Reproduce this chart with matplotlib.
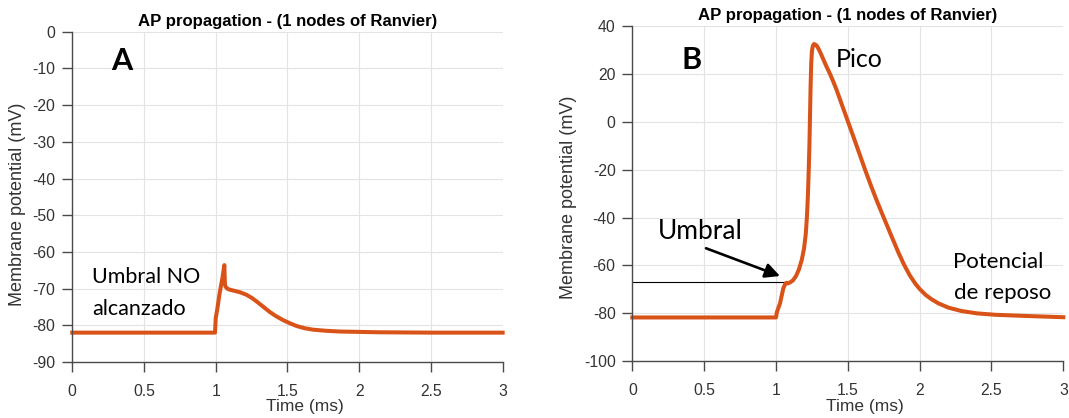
import matplotlib
matplotlib.use("Agg")
import matplotlib.pyplot as plt

# Membrane potential traces (time in ms, potential in mV)
t_sub = [0.0, 0.995, 1.0, 1.01, 1.027, 1.048, 1.06, 1.064, 1.069, 1.08, 1.099, 1.13,
         1.17, 1.215, 1.25, 1.285, 1.33, 1.378, 1.42, 1.47, 1.52, 1.564, 1.62, 1.68,
         1.77, 1.865, 2.0, 2.14, 2.5, 3.0]
v_sub = [-82.0, -82.0, -78.0, -75.8, -71.3, -66.8, -63.6, -68.8, -69.5, -70.0, -70.3,
         -70.6, -71.0, -71.7, -72.5, -73.5, -74.9, -76.4, -77.5, -78.6, -79.5, -80.2,
         -80.8, -81.2, -81.5, -81.7, -81.8, -81.9, -82.0, -82.0]

t_ap = [0.0, 1.0, 1.006, 1.015, 1.028, 1.04, 1.051, 1.065, 1.074, 1.082, 1.1, 1.12,
        1.14, 1.16, 1.18, 1.195, 1.207, 1.215, 1.222, 1.228, 1.233, 1.237, 1.241,
        1.245, 1.25, 1.257, 1.265, 1.28, 1.29, 1.31, 1.33, 1.35, 1.376, 1.40, 1.422,
        1.45, 1.48, 1.51, 1.54, 1.58, 1.62, 1.66, 1.70, 1.75, 1.80, 1.85, 1.89, 1.93,
        1.97, 2.0, 2.04, 2.08, 2.13, 2.2, 2.29, 2.4, 2.53, 2.75, 3.0]
v_ap = [-81.7, -81.7, -79.5, -78.0, -75.8, -72.5, -69.5, -67.6, -67.2, -67.5, -67.0,
        -66.1, -64.3, -61.6, -57.5, -53.0, -47.0, -40.0, -31.0, -20.0, -9.0, 3.0,
        15.0, 24.0, 29.5, 31.8, 32.5, 32.0, 31.2, 28.8, 26.0, 23.3, 20.0, 16.6, 13.3,
        8.6, 3.6, -1.4, -6.4, -13.2, -20.0, -26.5, -32.7, -40.0, -47.2, -54.3, -59.5,
        -64.0, -67.6, -69.8, -72.2, -74.0, -75.8, -77.6, -79.0, -80.0, -80.6, -81.1,
        -81.6]

threshold = -66.7

x_ticks = [0, 0.5, 1, 1.5, 2, 2.5, 3]
x_tick_labels = ["0", "0.5", "1", "1.5", "2", "2.5", "3"]
y_ticks_a = [0, -10, -20, -30, -40, -50, -60, -70, -80, -90]
y_ticks_b = [40, 20, 0, -20, -40, -60, -80, -100]

title = "AP propagation - (1 nodes of Ranvier)"
x_label = "Time (ms)"
y_label = "Membrane potential (mV)"

LINE = "#D95319"
AXC = "#4a4a4a"
TXT = "#333333"
TICKFONT = "Liberation Sans"
NOTEFONT = "Lato"

plt.rcParams["axes.unicode_minus"] = False

fig = plt.figure(figsize=(10.69, 4.18), dpi=100)
ax_a = fig.add_axes([0.0676, 0.134, 0.4026, 0.790])
ax_b = fig.add_axes([0.5915, 0.1357, 0.4032, 0.802])


def style(ax, yticks, ylim):
    ax.set_xlim(0, 3)
    ax.set_ylim(*ylim)
    ax.set_xticks(x_ticks)
    ax.set_xticklabels(x_tick_labels)
    ax.set_yticks(yticks)
    ax.grid(True, color="#e3e3e3", lw=0.8)
    ax.set_axisbelow(True)
    for s in ("top", "right"):
        ax.spines[s].set_visible(False)
    for s in ("left", "bottom"):
        ax.spines[s].set_color(AXC)
        ax.spines[s].set_linewidth(1.0)
    ax.tick_params(direction="out", length=7.5, width=1.0, color=AXC,
                   labelcolor=TXT, labelsize=11.3)
    ax.tick_params(axis="x", pad=8.5)
    ax.tick_params(axis="y", pad=4.5)
    for lab in ax.get_xticklabels() + ax.get_yticklabels():
        lab.set_fontfamily(TICKFONT)
    ax.set_title(title, fontfamily=TICKFONT, fontweight="bold", fontsize=12.1,
                 color="black", pad=4)
    ax.set_xlabel(x_label, fontfamily=TICKFONT, fontsize=12.5, color=TXT)
    ax.set_ylabel(y_label, fontfamily=TICKFONT, fontsize=13, color=TXT)
    ax.xaxis.set_label_coords(0.54, -0.112)


# Panel A: sub-threshold response
style(ax_a, y_ticks_a, (-90, 0))
ax_a.yaxis.set_label_coords(-0.108, 0.478)
ax_a.plot(t_sub, v_sub, color=LINE, lw=2.9, solid_joinstyle="round", clip_on=False)
ax_a.text(0.27, -10.4, "A", fontfamily=NOTEFONT, fontweight="bold", fontsize=22,
          ha="left", va="baseline")
ax_a.text(0.14, -68.4, "Umbral NO", fontfamily=NOTEFONT, fontsize=15.5,
          ha="left", va="baseline")
ax_a.text(0.14, -77.1, "alcanzado", fontfamily=NOTEFONT, fontsize=15.5,
          ha="left", va="baseline")

# Panel B: full action potential
style(ax_b, y_ticks_b, (-100, 40))
ax_b.yaxis.set_label_coords(-0.128, 0.489)
ax_b.plot([0, 1.063], [threshold, threshold], color="black", lw=0.8)
ax_b.plot(t_ap, v_ap, color=LINE, lw=2.9, solid_joinstyle="round", clip_on=False)
ax_b.annotate("", xy=(1.028, -64.4), xytext=(0.513, -52.8),
              arrowprops=dict(arrowstyle="-|>", color="black", lw=1.9,
                              mutation_scale=22, shrinkA=0, shrinkB=0))
ax_b.text(0.34, 22.0, "B", fontfamily=NOTEFONT, fontweight="bold", fontsize=22,
          ha="left", va="baseline")
ax_b.text(1.416, 22.7, "Pico", fontfamily=NOTEFONT, fontsize=18,
          ha="left", va="baseline")
ax_b.text(0.18, -48.9, "Umbral", fontfamily=NOTEFONT, fontsize=19,
          ha="left", va="baseline")
ax_b.text(2.232, -61.0, "Potencial", fontfamily=NOTEFONT, fontsize=16,
          ha="left", va="baseline")
ax_b.text(2.237, -73.9, "de reposo", fontfamily=NOTEFONT, fontsize=16,
          ha="left", va="baseline")

fig.savefig("out.png", dpi=100)
